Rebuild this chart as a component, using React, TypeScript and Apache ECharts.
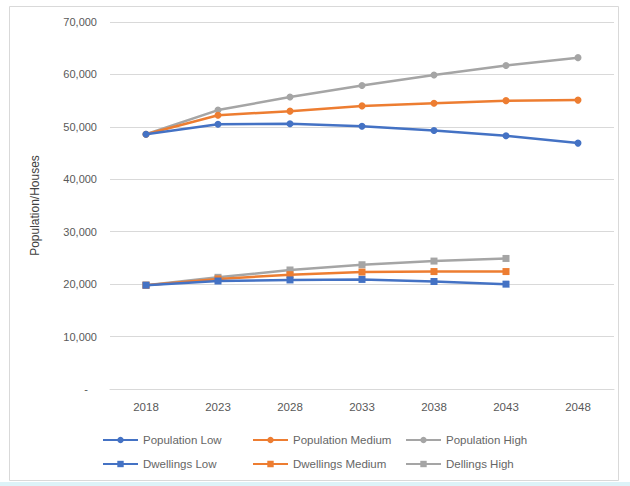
import React, { useEffect, useRef } from "react";
import * as echarts from "echarts";

const years = ["2018", "2023", "2028", "2033", "2038", "2043", "2048"];
const populationLow = [48600, 50500, 50600, 50100, 49300, 48300, 46900];
const populationMedium = [48600, 52200, 53000, 54000, 54500, 55000, 55100];
const populationHigh = [48600, 53200, 55700, 57900, 59900, 61700, 63200];
const dwellingsLow = [19800, 20600, 20800, 20900, 20500, 20000, null];
const dwellingsMedium = [19800, 21000, 21800, 22300, 22400, 22400, null];
const dwellingsHigh = [19800, 21300, 22700, 23700, 24400, 24900, null];

const seriesNames = [
  "Population Low",
  "Population Medium",
  "Population High",
  "Dwellings Low",
  "Dwellings Medium",
  "Dellings High",
];

const BLUE = "#4472C4";
const ORANGE = "#ED7D31";
const GRAY = "#A5A5A5";

export default function App() {
  const ref = useRef<HTMLDivElement>(null);
  useEffect(() => {
    const chart = echarts.init(ref.current!, null, { renderer: "svg" });
    const dataSets = [populationLow, populationMedium, populationHigh, dwellingsLow, dwellingsMedium, dwellingsHigh];
    const colors = [BLUE, ORANGE, GRAY, BLUE, ORANGE, GRAY];
    const symbols = ["circle", "circle", "circle", "rect", "rect", "rect"];
    const series = dataSets.map((d, i) => ({
      name: seriesNames[i],
      type: "line",
      data: d,
      color: colors[i],
      symbol: symbols[i],
      symbolSize: 7,
      showSymbol: true,
      lineStyle: { width: 2.5, color: colors[i] },
      itemStyle: { color: colors[i] },
      z: 10 - i,
    }));
    const legendPos = [
      [97, 429],
      [247, 429],
      [400, 429],
      [97, 453],
      [247, 453],
      [400, 453],
    ];
    const legends = seriesNames.map((n, i) => ({
      data: [n],
      left: legendPos[i][0],
      top: legendPos[i][1],
      itemWidth: 35,
      itemHeight: 8,
      itemGap: 4,
      textStyle: { color: "#666666", fontSize: 11.5, fontFamily: "Liberation Sans, Arial, sans-serif" },
      selectedMode: false,
    }));
    chart.setOption({
      animation: false,
      backgroundColor: "#ffffff",
      textStyle: { fontFamily: "Liberation Sans, Arial, sans-serif" },
      grid: { left: 110, right: 16, top: 22, bottom: 97 },
      legend: legends,
      graphic: [
        {
          type: "rect",
          shape: { x: 9.5, y: 6.5, width: 609, height: 474 },
          style: { fill: "none", stroke: "#D9D9D9", lineWidth: 1 },
          silent: true,
        },
        {
          type: "rect",
          shape: { x: 0, y: 482, width: 630, height: 4 },
          style: { fill: "#DDF3F8" },
          silent: true,
        },
      ],
      xAxis: {
        type: "category",
        data: years,
        boundaryGap: true,
        axisLine: { lineStyle: { color: "#D9D9D9", width: 1 } },
        axisTick: { show: false },
        axisLabel: { color: "#595959", fontSize: 11.5, margin: 12 },
      },
      yAxis: {
        type: "value",
        min: 0,
        max: 70000,
        interval: 10000,
        name: "Population/Houses",
        nameLocation: "middle",
        nameGap: 69,
        nameTextStyle: { color: "#404040", fontSize: 12 },
        axisLine: { show: false },
        axisTick: { show: false },
        splitLine: { lineStyle: { color: "#D9D9D9", width: 1 } },
        axisLabel: {
          color: "#595959",
          fontSize: 11,
          margin: 13,
          formatter: (v: number) => (v === 0 ? "-   " : v.toLocaleString("en-US")),
        },
      },
      series,
    });
    return () => chart.dispose();
  }, []);
  return (
    <div
      ref={ref}
      style={{ position: "absolute", left: 0, top: 0, width: 630, height: 486 }}
    />
  );
}
